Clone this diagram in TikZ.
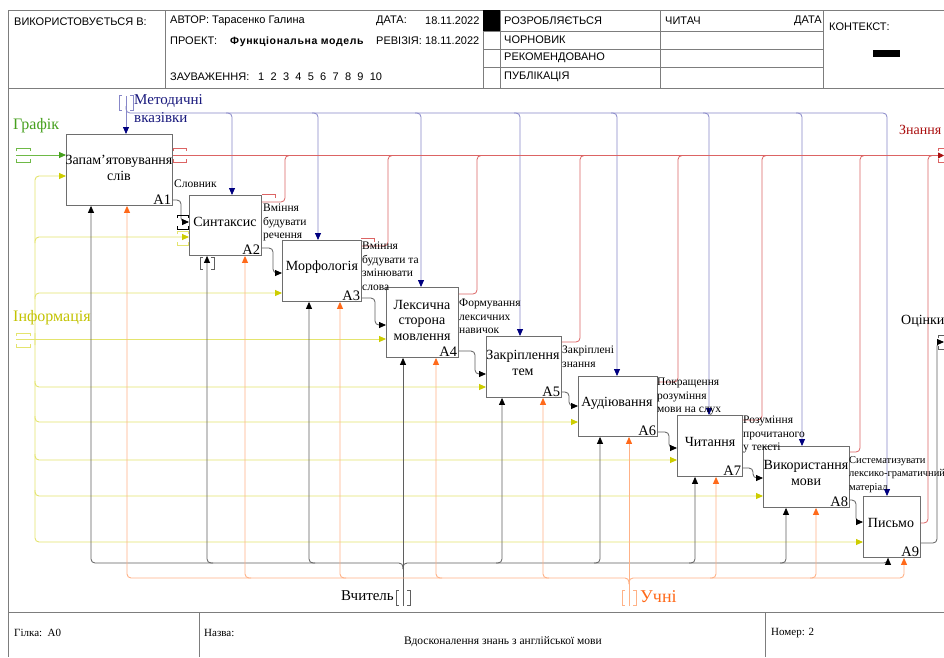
\documentclass[tikz,border=0pt]{standalone}
\usepackage{fontspec}
\setmainfont{Liberation Serif}
\newfontfamily\hdrfont{Liberation Sans}
\usetikzlibrary{arrows.meta}
\definecolor{ctlline}{RGB}{135,135,200}
\definecolor{ctltipc}{RGB}{0,0,128}
\definecolor{ctltext}{RGB}{25,25,125}
\definecolor{redline}{RGB}{220,100,100}
\definecolor{redtext}{RGB}{170,15,15}
\definecolor{grnline}{RGB}{110,185,70}
\definecolor{grntext}{RGB}{70,160,30}
\definecolor{yelline}{RGB}{228,228,110}
\definecolor{yeltipc}{RGB}{205,205,0}
\definecolor{yeltext}{RGB}{195,195,0}
\definecolor{mechline}{RGB}{95,95,95}
\definecolor{orgline}{RGB}{255,178,135}
\definecolor{orgtipc}{RGB}{255,105,25}
\definecolor{orgtext}{RGB}{255,105,25}
\definecolor{boxgray}{RGB}{110,110,110}
\definecolor{framec}{RGB}{125,125,125}
\newcommand\hbrk[4]{\draw[#1,line width=0.6pt] (#2,#4-4) |- (#3,#4-7) -- (#3,#4-4); \draw[#1,line width=0.6pt] (#2,#4+4) |- (#3,#4+7) -- (#3,#4+4);}
\newcommand\vbrk[4]{\draw[#1,line width=0.6pt] (#4-4,#2) -| (#4-7,#3) -- (#4-4,#3); \draw[#1,line width=0.6pt] (#4+4,#2) -| (#4+7,#3) -- (#4+4,#3);}
\begin{document}
\begin{tikzpicture}[x=1pt,y=-1pt,
  box/.style={draw=boxgray, line width=0.9pt, fill=white, inner sep=0pt, anchor=north west},
  btext/.style={font=\fontsize{14}{15.5}\selectfont, align=center, inner sep=0pt},
  bnum/.style={font=\fontsize{14.5}{15}\selectfont, anchor=south east, inner sep=1.5pt},
  olab/.style={font=\fontsize{11.5}{13.5}\selectfont, align=left, anchor=north west, inner sep=0pt},
  alab/.style={font=\fontsize{15}{16}\selectfont, inner sep=0pt},
  hdr/.style={font=\hdrfont\fontsize{11}{12}\selectfont, inner sep=0pt, anchor=west},
  ftr/.style={font=\fontsize{11}{12}\selectfont, inner sep=0pt, anchor=west},
  fl/.style={draw=framec, line width=0.8pt},
  ctl/.style={draw=ctlline, line width=0.8pt, rounded corners=4pt},
  ctlarrow/.style={-{Triangle[length=7pt,width=6pt,color=ctltipc]}},
  redl/.style={draw=redline, line width=0.8pt, rounded corners=4pt},
  redarrow/.style={-{Triangle[length=6pt,width=6pt,color=redtext]}},
  yel/.style={draw=yelline, line width=0.9pt, rounded corners=4pt},
  yelarrow/.style={-{Triangle[length=7pt,width=6pt,color=yeltipc]}},
  grn/.style={draw=grnline, line width=0.9pt},
  grnarrow/.style={-{Triangle[length=7pt,width=6pt,color=grntext]}},
  blk/.style={draw=mechline, line width=0.8pt, rounded corners=4pt},
  blkarrow/.style={-{Triangle[length=7pt,width=6pt,color=black]}},
  mech/.style={draw=mechline, line width=0.8pt, rounded corners=4pt},
  org/.style={draw=orgline, line width=0.9pt, rounded corners=4pt},
  orgarrow/.style={-{Triangle[length=7pt,width=6pt,color=orgtipc]}}
]
\useasboundingbox (0,0) rectangle (944,657);
\fill[white] (0,0) rectangle (944,657);

% ---------- header ----------
\draw[fl] (8,10) -- (944,10);
\draw[fl] (8,88) -- (944,88);
\draw[fl] (8,10) -- (8,657);
\draw[fl] (165,10) -- (165,88);
\draw[fl] (483,10) -- (483,88);
\draw[fl] (500,10) -- (500,88);
\draw[fl] (660,10) -- (660,88);
\draw[fl] (823,10) -- (823,88);
\draw[fl] (483,31) -- (823,31);
\draw[fl] (483,49) -- (823,49);
\draw[fl] (483,67) -- (823,67);
\fill[black] (483,10) rectangle (500,31);
\fill[black] (873,50) rectangle (900,57);
\node[hdr] (h1) at (14,22) {ВИКОРИСТОВУЄТЬСЯ В:};
\node[hdr] (h2) at (170,21) {АВТОР: Тарасенко Галина};
\node[hdr] (h3) at (376,21) {ДАТА:};
\node[hdr] (h4) at (425,21) {18.11.2022};
\node[hdr] (h5) at (170,41) {ПРОЕКТ:};
\node[hdr,font=\hdrfont\bfseries\fontsize{10.5}{12}\selectfont\addfontfeature{LetterSpace=6}] (h6) at (230,42) {Функціональна модель};
\node[hdr] (h7) at (376,41) {РЕВІЗІЯ: 18.11.2022};
\node[hdr] (h8) at (170,77) {ЗАУВАЖЕННЯ:};
\foreach \i in {1,...,10} {\node[hdr] (zn\i) at ({258+12.4*(\i-1)},77) {\i};}
\node[hdr] (h9) at (504,21) {РОЗРОБЛЯЄТЬСЯ};
\node[hdr] (h10) at (504,40) {ЧОРНОВИК};
\node[hdr] (h11) at (504,58) {РЕКОМЕНДОВАНО};
\node[hdr] (h12) at (504,77) {ПУБЛІКАЦІЯ};
\node[hdr] (h13) at (665,21) {ЧИТАЧ};
\node[hdr,anchor=east] (h14) at (822,21) {ДАТА};
\node[hdr] (h15) at (829,27) {КОНТЕКСТ:};

% ---------- footer ----------
\draw[fl] (8,612) -- (944,612);
\draw[fl] (199,612) -- (199,657);
\draw[fl] (765,612) -- (765,657);
\node[ftr] (f1) at (14,633) {Гілка:\ \ A0};
\node[ftr] (f2) at (204,633) {Назва:};
\node[ftr,anchor=center,font=\fontsize{11.5}{12}\selectfont] (f3) at (503,642) {Вдосконалення знань з англійської мови};
\node[ftr] (f4) at (771,633) {Номер: 2};

% ---------- boxes (geometry) ----------
\node[box,minimum width=106pt,minimum height=71pt] (A1) at (66,134) {};
\node[box,minimum width=72pt,minimum height=60pt] (A2) at (189,195) {};
\node[box,minimum width=79pt,minimum height=61pt] (A3) at (282,240) {};
\node[box,minimum width=72pt,minimum height=70pt] (A4) at (386,287) {};
\node[box,minimum width=75pt,minimum height=61pt] (A5) at (486,336) {};
\node[box,minimum width=79pt,minimum height=60pt] (A6) at (578,376) {};
\node[box,minimum width=65pt,minimum height=61pt] (A7) at (677,415) {};
\node[box,minimum width=86pt,minimum height=61pt] (A8) at (763,446) {};
\node[box,minimum width=57pt,minimum height=61pt] (A9) at (863,496) {};

% ---------- controls ----------
\draw[ctl,ctlarrow] (126,96) -- (126,0 |- A1.north);
\draw[ctl,ctlarrow] (126,106) |- (887,113) -- (887,0 |- A9.north);
\foreach \x/\b in {232/A2,318/A3,421/A4,520/A5,617/A6,709/A7,802/A8}
  {\draw[ctl,ctlarrow] (\x-6,113) -| (\x,0 |- \b.north);}
\vbrk{ctlline}{95}{110}{126}
\node[alab,anchor=north west,align=left,text=ctltext,font=\fontsize{15}{18}\selectfont] (lmet) at (134,94) {Методичні\\вказівки};

% ---------- outputs ----------
\coordinate (znend) at (944,155.5);
\foreach \y/\x/\b in {202/285/A2,246/388/A3,294/477/A4,342/580/A5,382/678/A6,420/762/A7,452/860/A8,523/928/A9}
  {\draw[redl] (\b.east |- 0,\y) -| (\x,155.5) -- (\x+6,155.5);}
\draw[draw=redline, line width=1pt] (A1.east |- znend) -- (938,155.5);
\draw[redl,redarrow] (934,155.5) -- (znend);
\hbrk{redline}{173}{186}{155}
\hbrk{redline}{938}{950}{155}
\draw[redline,line width=0.6pt] (262,194) -| (275,198);
\draw[redline,line width=0.6pt] (361,238) -| (374,242);
\node[alab,anchor=west,text=redtext,font=\fontsize{14}{16}\selectfont] (lzn) at (899,130) {Знання};

\draw[mech,blkarrow] (A9.east |- 0,543) -| (937,342) -- (944,342);
\hbrk{mechline}{938}{950}{342}
\node[alab,anchor=west,font=\fontsize{14}{16}\selectfont] (loc) at (901,321) {Оцінки};

% ---------- inputs ----------
\draw[grn,grnarrow] (16,155) -- (A1.west |- 0,155);
\hbrk{grnline}{16}{30}{155}
\node[alab,anchor=west,text=grntext,font=\fontsize{16}{17}\selectfont] (lgr) at (13,126) {Графік};

\draw[yel,yelarrow] (16,339) -- (A4.west |- 0,339);
\draw[yel,yelarrow] (35,345) |- (A1.west |- 0,176);
\draw[yel,yelarrow] (35,333) |- (A9.west |- 0,542);
\foreach \y/\b in {237/A2,293/A3}
  {\draw[yel,yelarrow] (35,\y+6) |- (\b.west |- 0,\y);}
\foreach \y/\b in {387/A5,422/A6,460/A7,496/A8}
  {\draw[yel,yelarrow] (35,\y-6) |- (\b.west |- 0,\y);}
\hbrk{yelline}{16}{30}{340}
\node[alab,anchor=west,text=yeltext,font=\fontsize{16}{17}\selectfont] (linf) at (13,318) {Інформація};

% box-to-box flows
\draw[blk,blkarrow] (A1.east |- 0,200) -| (181,222) -- (A2.west |- 0,222);
\draw[blk,blkarrow] (A2.east |- 0,248) -| (273,273) -- (A3.west |- 0,273);
\draw[blk,blkarrow] (A3.east |- 0,298) -| (375,325) -- (A4.west |- 0,325);
\draw[blk,blkarrow] (A4.east |- 0,351) -| (475,374) -- (A5.west |- 0,374);
\draw[blk,blkarrow] (A5.east |- 0,392) -| (569,406) -- (A6.west |- 0,406);
\draw[blk,blkarrow] (A6.east |- 0,432) -| (669,448) -- (A7.west |- 0,448);
\draw[blk,blkarrow] (A7.east |- 0,468) -| (753,478) -- (A8.west |- 0,478);
\draw[blk,blkarrow] (A8.east |- 0,500) -| (856,522) -- (A9.west |- 0,522);
\hbrk{black}{177}{188}{222}
\hbrk{yelline}{177}{188}{238}

% ---------- mechanisms ----------
\draw[mech,blkarrow] (403,606) -- (403,0 |- A4.south);
\draw[mech,blkarrow] (403,569) |- (91,563) -- (91,0 |- A1.south);
\draw[mech,blkarrow] (403,569) |- (888,563) -- (888,0 |- A9.south);
\foreach \x/\b in {207/A2,309/A3}
  {\draw[mech,blkarrow] (\x+6,563) -| (\x,0 |- \b.south);}
\foreach \x/\b in {502/A5,600/A6,695/A7,786/A8}
  {\draw[mech,blkarrow] (\x-6,563) -| (\x,0 |- \b.south);}
\vbrk{mechline}{590}{605}{403}
\vbrk{mechline}{257}{269}{207}
\node[alab,anchor=east] (lvch) at (394,596) {Вчитель};

\draw[org,orgarrow] (629,606) -- (629,0 |- A6.south);
\draw[org,orgarrow] (629,584) |- (127,578) -- (127,0 |- A1.south);
\draw[org,orgarrow] (629,584) |- (904,578) -- (904,0 |- A9.south);
\foreach \x/\b in {245/A2,340/A3,436/A4,543/A5}
  {\draw[org,orgarrow] (\x+6,578) -| (\x,0 |- \b.south);}
\foreach \x/\b in {716/A7,816/A8}
  {\draw[org,orgarrow] (\x-6,578) -| (\x,0 |- \b.south);}
\vbrk{orgline}{590}{605}{629}
\node[alab,anchor=west,text=orgtext,font=\fontsize{18}{19}\selectfont] (luch) at (640,597) {Учні};

% ---------- box texts ----------
\node[btext] (A1t) at (119,168) {Запам'ятовування\\слів};
\node[btext] (A2t) at (225,222) {Синтаксис};
\node[btext] (A3t) at (322,267) {Морфологія};
\node[btext] (A4t) at (422,320) {Лексична\\сторона\\мовлення};
\node[btext] (A5t) at (523,363) {Закріплення\\тем};
\node[btext] (A6t) at (617,403) {Аудіювання};
\node[btext] (A7t) at (710,442) {Читання};
\node[btext] (A8t) at (806,473) {Використання\\мови};
\node[btext] (A9t) at (891,523) {Письмо};
\foreach \b in {A1,A2,A3,A4,A5,A6,A7,A8,A9} {\node[bnum] (\b n) at (\b.south east) {\b};}

% ---------- output labels ----------
\node[olab,anchor=west] (o1) at (174,184) {Словник};
\node[olab] (o2) at (263,204) {Вміння\\будувати\\речення};
\node[olab] (o3) at (362,242) {Вміння\\будувати та\\змінювати\\слова};
\node[olab] (o4) at (459,299) {Формування\\лексичних\\навичок};
\node[olab] (o5) at (562,346) {Закріплені\\знання};
\node[olab] (o6) at (657,378) {Покращення\\розуміння\\мови на слух};
\node[olab] (o7) at (743,416) {Розуміння\\прочитаного\\у тексті};
\node[olab,font=\fontsize{10.5}{13.5}\selectfont] (o8) at (849,456) {Систематизувати\\лексико-граматичний\\матеріал};
\end{tikzpicture}
\end{document}
